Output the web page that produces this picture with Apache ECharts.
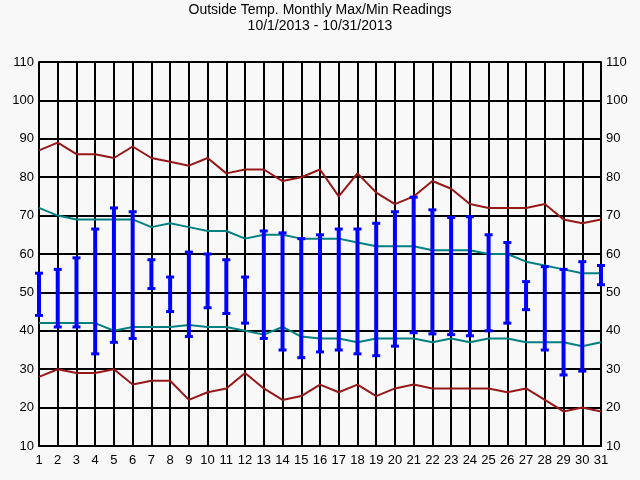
<!DOCTYPE html>
<html>
<head>
<meta charset="utf-8">
<script src="https://cdn.jsdelivr.net/npm/echarts@6/dist/echarts.min.js"></script>
<style>
html,body{margin:0;padding:0;background:#f8f8f8;}
#chart{width:640px;height:480px;}
</style>
</head>
<body>
<div id="chart"></div>
<script>
var days = [1,2,3,4,5,6,7,8,9,10,11,12,13,14,15,16,17,18,19,20,21,22,23,24,25,26,27,28,29,30,31];
var recordHigh = [87,89,86,86,85,88,85,84,83,85,81,82,82,79,80,82,75,81,76,73,75,79,77,73,72,72,72,73,69,68,69];
var recordLow  = [28,30,29,29,30,26,27,27,22,24,25,29,25,22,23,26,24,26,23,25,26,25,25,25,25,24,25,22,19,20,19];
var normalHigh = [72,70,69,69,69,69,67,68,67,66,66,64,65,65,64,64,64,63,62,62,62,61,61,61,60,60,58,57,56,55,55];
var normalLow  = [42,42,42,42,40,41,41,41,41.5,41,41,40,39,41,38.5,38,38,37,38,38,38,37,38,37,38,38,37,37,37,36,37];
var dayMax = [55,56,59,66.5,72,71,58.5,54,60.5,60,58.5,54,66,65.5,64,65,66.5,66.5,68,71,74.8,71.5,69.5,69.7,65,63,52.8,56.7,56,58,57];
var dayMin = [44,41,41,34,37,38,51,45,38.5,46,44.5,42,38,35,33,34.5,35,34,33.5,36,39.5,39.2,39,38.7,40,42,45.5,35,28.5,29.5,52];
var yMin = 10, yMax = 110, yStep = 10;

var chart = echarts.init(document.getElementById('chart'), null, {renderer:'canvas'});
function pairs(arr){ return days.map(function(d,i){ return [d, arr[i]]; }); }
var barData = days.map(function(d,i){ return [d, dayMin[i], dayMax[i]]; });
var font = 'Arial, "Liberation Sans", sans-serif';

chart.setOption({
  animation:false,
  backgroundColor:'#f8f8f8',
  title:{
    text:'Outside Temp. Monthly Max/Min Readings\n10/1/2013 - 10/31/2013',
    left:'center', top:-3,
    textStyle:{fontFamily:font, fontSize:14, fontWeight:'normal', color:'#000', lineHeight:16}
  },
  grid:{left:39, right:39, top:62, bottom:34},
  xAxis:{
    type:'value', min:1, max:31, interval:1,
    axisLine:{show:true, lineStyle:{color:'#000', width:2}},
    axisTick:{show:false},
    axisLabel:{fontFamily:font, fontSize:13, color:'#000', margin:8, showMinLabel:true, showMaxLabel:true},
    splitLine:{show:true, lineStyle:{color:'#000', width:2}}
  },
  yAxis:[{
    type:'value', min:yMin, max:yMax, interval:yStep, position:'left',
    axisLine:{show:true, lineStyle:{color:'#000', width:2}},
    axisTick:{show:false},
    axisLabel:{fontFamily:font, fontSize:13, color:'#000', margin:5},
    splitLine:{show:true, lineStyle:{color:'#000', width:2}}
  },{
    type:'value', min:yMin, max:yMax, interval:yStep, position:'right',
    axisLine:{show:true, lineStyle:{color:'#000', width:2}},
    axisTick:{show:false},
    axisLabel:{fontFamily:font, fontSize:13, color:'#000', margin:5},
    splitLine:{show:false}
  }],
  series:[
    {type:'line', name:'Record High', data:pairs(recordHigh), symbol:'none', lineStyle:{color:'#961818', width:2}, z:3},
    {type:'line', name:'Record Low', data:pairs(recordLow), symbol:'none', lineStyle:{color:'#961818', width:2}, z:3},
    {type:'line', name:'Normal High', data:pairs(normalHigh), symbol:'none', lineStyle:{color:'#008080', width:2}, z:3},
    {type:'line', name:'Normal Low', data:pairs(normalLow), symbol:'none', lineStyle:{color:'#008080', width:2}, z:3},
    {type:'custom', name:'Daily', data:barData, z:5,
      encode:{x:0, y:[1,2]},
      renderItem:function(params, api){
        var x = api.value(0);
        var lo = api.coord([x, api.value(1)]);
        var hi = api.coord([x, api.value(2)]);
        var c = 4, col = '#0000ff';
        return {type:'group', children:[
          {type:'line', shape:{x1:lo[0], y1:lo[1], x2:hi[0], y2:hi[1]}, style:{stroke:col, lineWidth:4}},
          {type:'line', shape:{x1:lo[0]-c, y1:lo[1], x2:lo[0]+c, y2:lo[1]}, style:{stroke:col, lineWidth:3}},
          {type:'line', shape:{x1:hi[0]-c, y1:hi[1], x2:hi[0]+c, y2:hi[1]}, style:{stroke:col, lineWidth:3}}
        ]};
      }
    }
  ]
});
</script>
</body>
</html>
